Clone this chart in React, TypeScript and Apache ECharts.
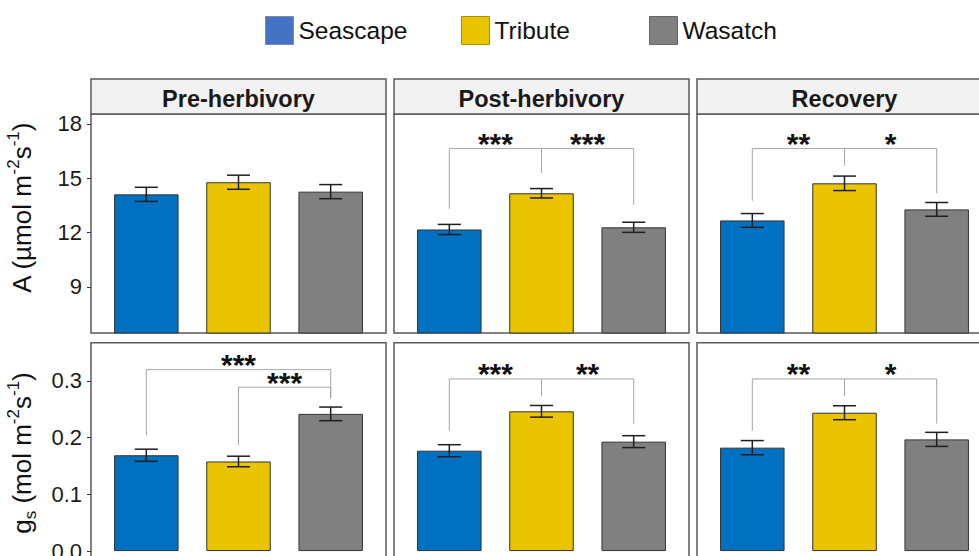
import React, { useEffect, useRef } from 'react';
import * as echarts from 'echarts';

const FONT = 'Liberation Sans, Arial, sans-serif';

const cultivars = ['Seascape', 'Tribute', 'Wasatch'];
const stages = ['Pre-herbivory', 'Post-herbivory', 'Recovery'];
const barColors = ['#0070C0', '#EBC400', '#808080'];
const legendColors = ['#4472C4', '#EBC400', '#808080'];
const legendBorders = ['#7a8aa8', '#a89000', '#666666'];

// Net photosynthesis A (µmol m-2 s-1); order: Seascape, Tribute, Wasatch
const aPre = [14.11, 14.78, 14.26];
const aPost = [12.17, 14.17, 12.29];
const aRec = [12.67, 14.72, 13.28];
const aSePre = [0.39, 0.39, 0.39];
const aSePost = [0.28, 0.26, 0.28];
const aSeRec = [0.38, 0.4, 0.38];

// Stomatal conductance gs (mol m-2 s-1)
const gsPre = [0.169, 0.158, 0.242];
const gsPost = [0.177, 0.2465, 0.193];
const gsRec = [0.1824, 0.244, 0.197];
const gsSePre = [0.0107, 0.0093, 0.012];
const gsSePost = [0.0106, 0.0103, 0.0105];
const gsSeRec = [0.0125, 0.0123, 0.0124];

const aTicks = [9, 12, 15, 18];
const gsTicks = [0, 0.1, 0.2, 0.3];

// significance brackets: [fromBar, toBar, lineY, leftEndY, rightEndY]
const aBracketsPre: number[][] = [];
const aLabelsPre: string[] = [];
const aBracketsPost = [[1, 2, 16.64, 13.31, 15.31], [2, 3, 16.64, 15.31, 13.53]];
const aLabelsPost = ['***', '***'];
const aBracketsRec = [[1, 2, 16.64, 13.76, 15.72], [2, 3, 16.64, 15.72, 14.17]];
const aLabelsRec = ['**', '*'];
const gsBracketsPre = [[1, 3, 0.32, 0.204, 0.2695], [2, 3, 0.289, 0.187, 0.2695]];
const gsLabelsPre = ['***', '***'];
const gsBracketsPost = [[1, 2, 0.3035, 0.2124, 0.274], [2, 3, 0.3035, 0.274, 0.2247]];
const gsLabelsPost = ['***', '**'];
const gsBracketsRec = [[1, 2, 0.3035, 0.2124, 0.274], [2, 3, 0.3035, 0.274, 0.2247]];
const gsLabelsRec = ['**', '*'];

const rows = [
  {
    means: [aPre, aPost, aRec],
    ses: [aSePre, aSePost, aSeRec],
    brackets: [aBracketsPre, aBracketsPost, aBracketsRec],
    labels: [aLabelsPre, aLabelsPost, aLabelsRec],
    min: 6.45,
    max: 18.55,
    ticks: aTicks,
    fmt: (v: number) => String(v),
  },
  {
    means: [gsPre, gsPost, gsRec],
    ses: [gsSePre, gsSePost, gsSeRec],
    brackets: [gsBracketsPre, gsBracketsPost, gsBracketsRec],
    labels: [gsLabelsPre, gsLabelsPost, gsLabelsRec],
    min: -0.0175,
    max: 0.3675,
    ticks: gsTicks,
    fmt: (v: number) => v.toFixed(1),
  },
];

const colLeft = [91, 394, 697];
const panelW = 295;
const rowTop = [114, 342.7];
const rowH = [219, 218.3];
const stripTop = 79;
const stripH = 35;
const BORDER = '#5a5a5a';

function buildOption() {
  const grid: any[] = [];
  const xAxis: any[] = [];
  const yAxis: any[] = [];
  const series: any[] = [];

  rows.forEach((row, r) => {
    for (let c = 0; c < 3; c++) {
      const g = r * 3 + c;
      grid.push({
        left: colLeft[c],
        top: rowTop[r],
        width: panelW,
        height: rowH[r],
        show: true,
        borderColor: BORDER,
        borderWidth: 1.5,
        backgroundColor: 'transparent',
        containLabel: false,
        outerBoundsMode: 'none',
      });
      xAxis.push({
        type: 'value',
        gridIndex: g,
        min: 0.4,
        max: 3.6,
        show: false,
      });
      yAxis.push({
        type: 'value',
        gridIndex: g,
        min: row.min,
        max: row.max,
        splitLine: { show: false },
        axisLine: { show: false },
        axisTick: {
          show: c === 0,
          length: 4,
          lineStyle: { color: '#333', width: 1 },
          customValues: row.ticks,
        },
        axisLabel: {
          show: c === 0,
          customValues: row.ticks,
          formatter: row.fmt,
          fontSize: 22,
          color: '#1a1a1a',
          fontFamily: FONT,
          margin: 9,
        },
      });

      const means = row.means[c];
      const ses = row.ses[c];
      cultivars.forEach((name, k) => {
        series.push({
          type: 'bar',
          name,
          xAxisIndex: g,
          yAxisIndex: g,
          barWidth: 64.5,
          barGap: '-100%',
          data: [[k + 1, means[k]]],
          itemStyle: { color: barColors[k], borderColor: '#333', borderWidth: 1 },
          emphasis: { disabled: true },
        });
      });

      series.push({
        type: 'custom',
        xAxisIndex: g,
        yAxisIndex: g,
        data: means.map((m, k) => [k + 1, m - ses[k], m + ses[k]]),
        renderItem: (params: any, api: any) => {
          const x = api.value(0);
          const pLo = api.coord([x, api.value(1)]);
          const pHi = api.coord([x, api.value(2)]);
          const half = api.size([0.125, 0])[0];
          const st = { stroke: '#1f1f1f', lineWidth: 1.5 };
          return {
            type: 'group',
            children: [
              { type: 'line', shape: { x1: pLo[0], y1: pLo[1], x2: pHi[0], y2: pHi[1] }, style: st },
              { type: 'line', shape: { x1: pLo[0] - half, y1: pLo[1], x2: pLo[0] + half, y2: pLo[1] }, style: st },
              { type: 'line', shape: { x1: pHi[0] - half, y1: pHi[1], x2: pHi[0] + half, y2: pHi[1] }, style: st },
            ],
          };
        },
        z: 5,
      });

      const br = row.brackets[c];
      const lbl = row.labels[c];
      if (br.length) {
        series.push({
          type: 'custom',
          xAxisIndex: g,
          yAxisIndex: g,
          clip: false,
          data: br,
          renderItem: (params: any, api: any) => {
            const x1 = api.value(0);
            const x2 = api.value(1);
            const y = api.value(2);
            const p1 = api.coord([x1, api.value(3)]);
            const p2 = api.coord([x1, y]);
            const p3 = api.coord([x2, y]);
            const p4 = api.coord([x2, api.value(4)]);
            return {
              type: 'group',
              children: [
                {
                  type: 'polyline',
                  shape: { points: [p1, p2, p3, p4] },
                  style: { stroke: '#a6a6a6', lineWidth: 1, fill: 'none' },
                },
                {
                  type: 'text',
                  x: (p2[0] + p3[0]) / 2,
                  y: p2[1] - 5,
                  style: {
                    text: lbl[params.dataIndex],
                    fontSize: 30,
                    fontWeight: 'bold',
                    fontFamily: FONT,
                    fill: '#111',
                    align: 'center',
                    verticalAlign: 'middle',
                  },
                },
              ],
            };
          },
          z: 6,
        });
      }
    }
  });

  const graphic: any[] = [];
  stages.forEach((s, c) => {
    graphic.push({
      type: 'rect',
      shape: { x: colLeft[c], y: stripTop, width: panelW, height: stripH },
      style: { fill: '#f2f2f2', stroke: BORDER, lineWidth: 1.5 },
      z: 1,
    });
    graphic.push({
      type: 'text',
      x: colLeft[c] + panelW / 2,
      y: stripTop + stripH / 2 + 2,
      style: {
        text: s,
        fontSize: 23.5,
        fontWeight: 'bold',
        fontFamily: FONT,
        fill: '#1a1a1a',
        align: 'center',
        verticalAlign: 'middle',
      },
      z: 2,
    });
  });

  const rich = {
    m: { fontSize: 26, lineHeight: 34, fontFamily: FONT, fill: '#111', color: '#111' },
    sup: { fontSize: 17, lineHeight: 17, verticalAlign: 'top', fontFamily: FONT, fill: '#111', color: '#111' },
    sub: { fontSize: 17, lineHeight: 17, verticalAlign: 'bottom', fontFamily: FONT, fill: '#111', color: '#111' },
  };
  graphic.push({
    type: 'text',
    x: 22,
    y: 208,
    rotation: Math.PI / 2,
    style: {
      text: '{m|A (µmol m}{sup|-2}{m|s}{sup|-1}{m|)}',
      rich,
      align: 'center',
      verticalAlign: 'middle',
      fontFamily: FONT,
    },
  });
  graphic.push({
    type: 'text',
    x: 22,
    y: 453,
    rotation: Math.PI / 2,
    style: {
      text: '{m|g}{sub|s}{m| (mol m}{sup|-2}{m|s}{sup|-1}{m|)}',
      rich,
      align: 'center',
      verticalAlign: 'middle',
      fontFamily: FONT,
    },
  });

  const legendLeft = [265, 461, 649];
  const legend = cultivars.map((name, k) => ({
    data: [
      {
        name,
        icon: 'rect',
        itemStyle: { color: legendColors[k], borderColor: legendBorders[k], borderWidth: 1 },
      },
    ],
    left: legendLeft[k],
    top: 16,
    padding: 0,
    itemWidth: 28,
    itemHeight: 28,
    selectedMode: false,
    textStyle: { fontSize: 24.5, color: '#111', fontFamily: FONT },
  }));

  return {
    animation: false,
    backgroundColor: '#ffffff',
    textStyle: { fontFamily: FONT },
    legend,
    grid,
    xAxis,
    yAxis,
    series,
    graphic,
  };
}

export default function App() {
  const ref = useRef<HTMLDivElement>(null);
  useEffect(() => {
    if (!ref.current) return;
    const chart = echarts.init(ref.current, undefined, { renderer: 'svg' });
    chart.setOption(buildOption() as any);
    return () => chart.dispose();
  }, []);
  return (
    <div
      ref={ref}
      style={{ position: 'fixed', left: 0, top: 0, width: 979, height: 556, background: '#fff' }}
    />
  );
}
